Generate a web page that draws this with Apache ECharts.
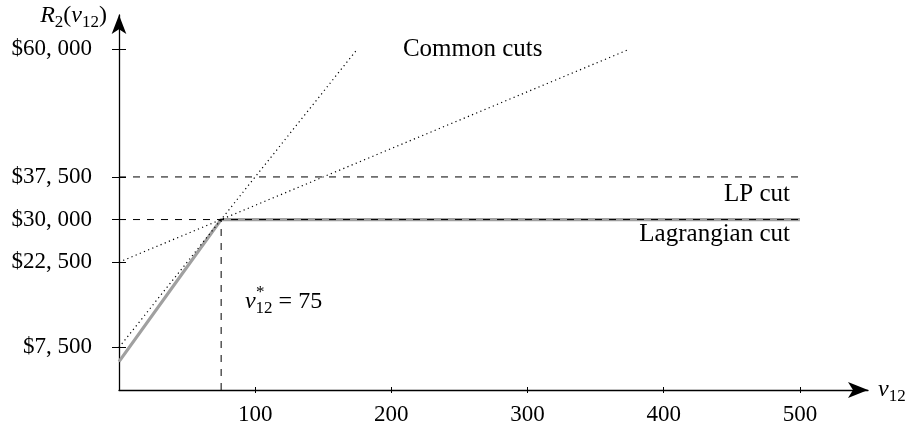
<!DOCTYPE html>
<html>
<head>
<meta charset="utf-8">
<script src="https://cdn.jsdelivr.net/npm/echarts@6/dist/echarts.min.js"></script>
<style>
html, body {margin: 0; padding: 0; background: #fff;}
#chart {width: 909px; height: 430px;}
</style>
</head>
<body>
<div id="chart"></div>
<script>
// axis ticks
var xTicks = [100, 200, 300, 400, 500];
var yTicks = [7500, 22500, 30000, 37500, 60000];
var yTickLabels = ['$7, 500', '$22, 500', '$30, 000', '$37, 500', '$60, 000'];

// lines (v12, R2)
var lagrangianCut = [[0, 5000], [75, 30000], [500, 30000]];
var lpCut = [[0, 37500], [500, 37500]];
var optimumLevel = [[0, 30000], [500, 30000]];
var optimumDrop = [[75, 0], [75, 30000]];
var commonCutSteep = [[0, 7500], [175, 60000]];
var commonCutFlat = [[0, 22500], [375, 60000]];

var font = 'Liberation Serif';
var black = '#000';

var richText = {
    it: {fontFamily: font, fontStyle: 'italic', fontSize: 24, color: black, lineHeight: 30},
    n: {fontFamily: font, fontSize: 24, color: black, lineHeight: 30},
    sub: {fontFamily: font, fontSize: 17, color: black, lineHeight: 16, verticalAlign: 'bottom'}
};

function lineSeries(data, color, width, type, z) {
    return {
        type: 'line',
        data: data,
        symbol: 'none',
        silent: true,
        z: z,
        lineStyle: {color: color, width: width, type: type}
    };
}

var myChart = echarts.init(document.getElementById('chart'));

var option = {
    animation: false,
    textStyle: {fontFamily: font},
    grid: {left: 119, right: 41, top: 15, bottom: 40, containLabel: false},
    xAxis: [{
        type: 'value',
        min: 0,
        max: 550,
        name: '{it|v}{sub|12}',
        nameLocation: 'end',
        nameGap: 10,
        nameTextStyle: {align: 'left', verticalAlign: 'middle', rich: richText},
        axisLine: {show: true, symbol: ['none', 'arrow'], symbolSize: [12, 20], lineStyle: {color: black, width: 1.3}},
        axisTick: {show: true, length: 3, customValues: xTicks, lineStyle: {color: black}},
        axisLabel: {customValues: xTicks, fontSize: 23, color: black, fontFamily: font, margin: 13},
        splitLine: {show: false}
    }, {
        // inner half of the crossing ticks
        type: 'value',
        min: 0,
        max: 550,
        position: 'bottom',
        axisLine: {show: false},
        axisTick: {show: true, inside: true, length: 3, customValues: xTicks, lineStyle: {color: black}},
        axisLabel: {show: false},
        splitLine: {show: false}
    }],
    yAxis: [{
        type: 'value',
        min: 0,
        max: 66000,
        name: '{it|R}{sub|2}{n|(}{it|v}{sub|12}{n|)}',
        nameLocation: 'end',
        nameGap: -1,
        nameTextStyle: {align: 'right', verticalAlign: 'middle', padding: [0, 12, 0, 0], rich: richText},
        axisLine: {show: true, symbol: ['none', 'arrow'], symbolSize: [11, 19], lineStyle: {color: black, width: 1.3}},
        axisTick: {show: true, length: 7, customValues: yTicks, lineStyle: {color: black}},
        axisLabel: {
            customValues: yTicks,
            fontSize: 23,
            color: black,
            fontFamily: font,
            margin: 27,
            formatter: function (v) { return yTickLabels[yTicks.indexOf(v)]; }
        },
        splitLine: {show: false}
    }, {
        type: 'value',
        min: 0,
        max: 66000,
        position: 'left',
        axisLine: {show: false},
        axisTick: {show: true, inside: true, length: 7, customValues: yTicks, lineStyle: {color: black}},
        axisLabel: {show: false},
        splitLine: {show: false}
    }],
    series: [
        lineSeries(lagrangianCut, '#a0a0a0', 3.2, 'solid', 2),
        lineSeries(lpCut, black, 1, [7, 7], 3),
        lineSeries(optimumLevel, black, 1, [7, 7], 3),
        lineSeries(optimumDrop, black, 1, [7, 7], 3),
        lineSeries(commonCutSteep, black, 1.2, [1.2, 3.3], 3),
        lineSeries(commonCutFlat, black, 1.2, [1.2, 3.3], 3)
    ]
};

myChart.setOption(option);

// annotations placed in data coordinates
function at(x, y) {
    return myChart.convertToPixel({gridIndex: 0}, [x, y]);
}

var pCommon = at(208.5, 60000);
var pLp = at(492.7, 34500);
var pLag = at(492.7, 27300);
var pOpt = at(92.5, 15500);
var annFont = '25px "' + font + '"';

myChart.setOption({
    graphic: [{
        type: 'text', x: pCommon[0], y: pCommon[1],
        style: {text: 'Common cuts', font: annFont, fill: black, align: 'left', verticalAlign: 'middle'}
    }, {
        type: 'text', x: pLp[0], y: pLp[1],
        style: {text: 'LP cut', font: annFont, fill: black, align: 'right', verticalAlign: 'middle'}
    }, {
        type: 'text', x: pLag[0], y: pLag[1],
        style: {text: 'Lagrangian cut', font: annFont, fill: black, align: 'right', verticalAlign: 'middle'}
    }, {
        type: 'group', x: pOpt[0], y: pOpt[1],
        children: [{
            type: 'text', x: 0, y: 0,
            style: {text: '{it|v}{sub|12}{n| = 75}', rich: richText, align: 'left', verticalAlign: 'middle'}
        }, {
            type: 'text', x: 11, y: -9,
            style: {text: '*', font: '17px "' + font + '"', fill: black, align: 'left', verticalAlign: 'middle'}
        }]
    }]
});
</script>
</body>
</html>
